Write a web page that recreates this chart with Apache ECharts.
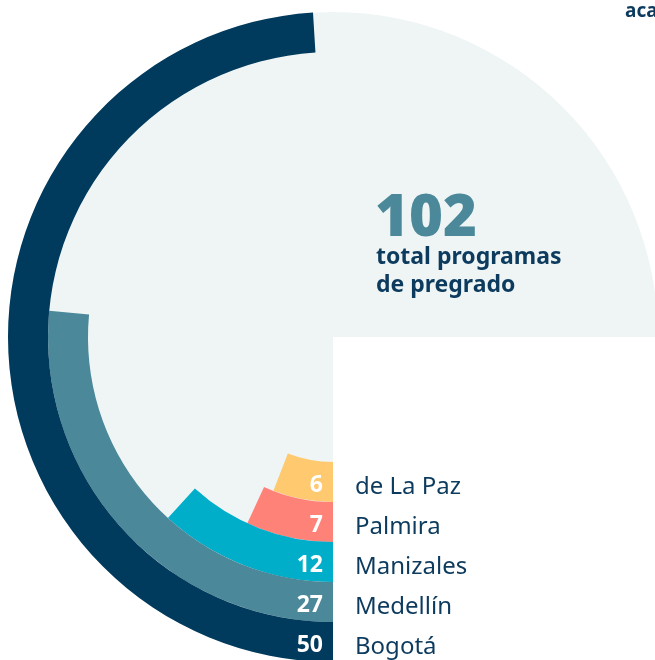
<!DOCTYPE html>
<html>
<head>
<meta charset="utf-8">
<script src="https://cdn.jsdelivr.net/npm/echarts@6/dist/echarts.min.js"></script>
<style>
  html, body { margin: 0; padding: 0; background: #fff; }
  #chart { width: 655px; height: 660px; }
</style>
</head>
<body>
<div id="chart"></div>
<script>
// sedes, de adentro hacia afuera
var sedes = ['de La Paz', 'Palmira', 'Manizales', 'Medellín', 'Bogotá']
var programas = [6, 7, 12, 27, 50]
var total = 102
var colores = ['#ffc96f', '#ff8279', '#00aeca', '#4b8899', '#003a5d']

var font = '"Noto Sans", sans-serif'
var cx = 333
var cy = 337

var chart = echarts.init(document.getElementById('chart'))

var option = {
  animation: false,
  polar: {
    center: [cx, cy],
    radius: [125, 325]
  },
  angleAxis: {
    type: 'value',
    min: 0,
    max: total,
    startAngle: 270,
    clockwise: true,
    show: false
  },
  radiusAxis: {
    type: 'category',
    data: sedes,
    z: 10,
    axisLine: { show: false },
    axisTick: { show: false },
    splitLine: { show: false },
    axisLabel: {
      interval: 0,
      hideOverlap: false,
      margin: 22,
      formatter: '{n|{value}}',
      rich: {
        n: {
          padding: [10, 0, 0, 0],
          color: '#0d3b5e',
          fontSize: 24,
          fontFamily: font
        }
      }
    }
  },
  graphic: [
    // fondo claro (círculo sin el cuadrante inferior derecho)
    {
      type: 'sector',
      z: -10,
      shape: { cx: cx, cy: cy, r: 325, r0: 0, startAngle: Math.PI / 2, endAngle: Math.PI * 2 },
      style: { fill: '#eff5f5' }
    },
    {
      type: 'text',
      left: 375,
      top: 190,
      style: { text: String(total), fontSize: 58, fontWeight: 900, fill: '#4b8899', fontFamily: font }
    },
    {
      type: 'text',
      left: 376,
      top: 243,
      style: {
        text: 'total programas\nde pregrado',
        fontSize: 23,
        lineHeight: 28,
        fontWeight: 'bold',
        fill: '#0d3b5e',
        fontFamily: font
      }
    },
    {
      type: 'text',
      left: 625,
      top: 2,
      style: { text: 'aca', fontSize: 19, fontWeight: 'bold', fill: '#0d3b5e', fontFamily: font }
    }
  ],
  series: [
    {
      type: 'bar',
      coordinateSystem: 'polar',
      barCategoryGap: '0%',
      z: 2,
      data: programas.map(function(v, i) {
        return { value: v, itemStyle: { color: colores[i] } }
      }),
      label: {
        show: true,
        position: 'insideStart',
        distance: 10,
        rotate: 0,
        align: 'right',
        verticalAlign: 'middle',
        offset: [0, 3],
        color: '#fff',
        fontSize: 23,
        fontWeight: 'bold',
        fontFamily: font
      }
    }
  ]
}

chart.setOption(option)
</script>
</body>
</html>
